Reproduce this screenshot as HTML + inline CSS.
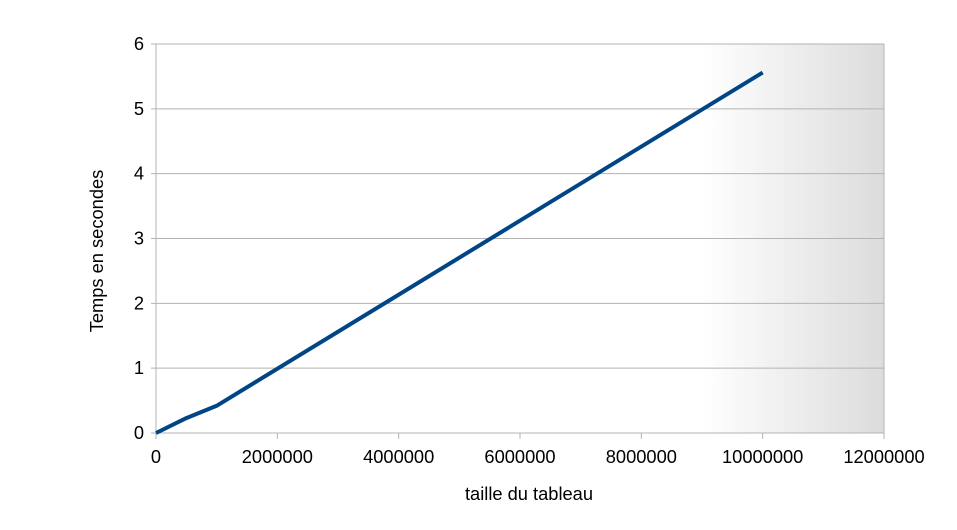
<!DOCTYPE html>
<html><head><meta charset="utf-8"><style>
body{margin:0;background:#fff;}
svg text{font-family:"Liberation Sans",sans-serif;font-size:18.3px;fill:#000;}
</style></head><body>
<svg width="957" height="525">
<defs><linearGradient id="g" x1="0" x2="1" y1="0" y2="0">
<stop offset="0" stop-color="#fff"/><stop offset="0.75" stop-color="#fff"/><stop offset="1" stop-color="#dcdcdc"/>
</linearGradient></defs>
<rect x="156" y="44" width="728" height="389" fill="url(#g)"/>
<g id="grid"></g>
<g id="axes"></g>
<polyline id="series" fill="none" stroke="#004586" stroke-width="4" stroke-linejoin="round"/>
<text x="529" y="500" text-anchor="middle">taille du tableau</text>
<text transform="translate(103,251) rotate(-90)" text-anchor="middle">Temps en secondes</text>
</svg>
<script>
const xTicks=[0,2000000,4000000,6000000,8000000,10000000,12000000];
const yTicks=[0,1,2,3,4,5,6];
const sizes=[0,500000,1000000,10000000];
const times=[0,0.23,0.42,5.56];
const X0=156,X1=884,Y0=433,Y1=44;
const xs=v=>X0+(v/12000000)*(X1-X0);
const ys=v=>Y0-(v/6)*(Y0-Y1);
const NS="http://www.w3.org/2000/svg";
const grid=document.getElementById('grid'),axes=document.getElementById('axes');
function mk(tag,attrs,parent){const e=document.createElementNS(NS,tag);for(const k in attrs)e.setAttribute(k,attrs[k]);parent.appendChild(e);return e;}
yTicks.forEach(v=>{
 const l=mk('line',{x1:X0-5,x2:X1,y1:ys(v),y2:ys(v),stroke:'#b3b3b3','stroke-width':1},grid);
 
 
 const t=mk('text',{x:X0-12,y:ys(v)+6,'text-anchor':'end'},axes);t.textContent=v;
 
 
});
xTicks.forEach(v=>{
 const l=mk('line',{x1:xs(v),x2:xs(v),y1:Y0,y2:Y0+6,stroke:'#b3b3b3','stroke-width':1},grid);
 
 
 const t=mk('text',{x:xs(v),y:Y0+30,'text-anchor':'middle'},axes);t.textContent=v;
 
 
});
mk('line',{x1:X0,x2:X0,y1:Y1,y2:Y0+6,stroke:'#b3b3b3'},grid);
mk('line',{x1:X1,x2:X1,y1:Y1,y2:Y0,stroke:'#b3b3b3'},grid);
document.getElementById('series').setAttribute('points',sizes.map((s,i)=>xs(s)+','+ys(times[i])).join(' '));
</script>
</body></html>
